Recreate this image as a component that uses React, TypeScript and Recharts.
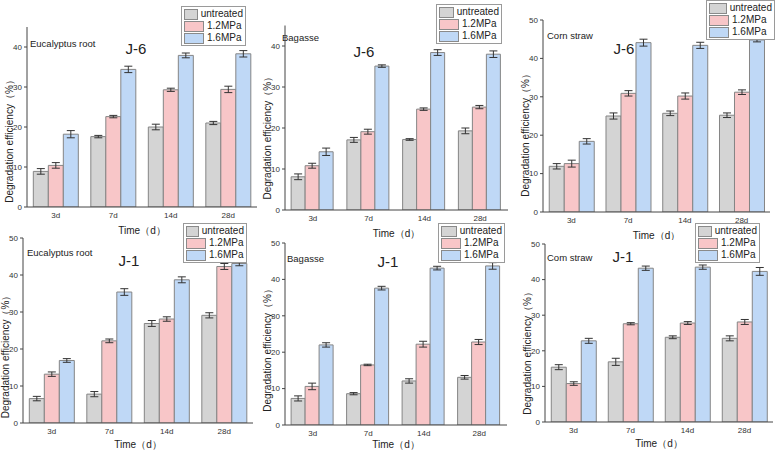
import React from 'react';
import { BarChart, Bar, XAxis, YAxis, ErrorBar, Legend } from 'recharts';

const categories = ['3d', '7d', '14d', '28d'];
const seriesNames = ['untreated', '1.2MPa', '1.6MPa'];

// J-6 Eucalyptus root
const j6EucU = [8.9, 17.6, 20.0, 21.0];
const j6EucA = [10.4, 22.6, 29.3, 29.4];
const j6EucB = [18.2, 34.4, 37.9, 38.3];
const j6EucUe = [0.7, 0.3, 0.7, 0.4];
const j6EucAe = [0.7, 0.3, 0.4, 0.8];
const j6EucBe = [0.9, 0.8, 0.6, 0.8];

// J-6 Bagasse
const j6BagU = [8.1, 17.1, 17.2, 19.3];
const j6BagA = [10.8, 19.1, 24.6, 25.1];
const j6BagB = [14.2, 35.1, 38.4, 38.0];
const j6BagUe = [0.7, 0.6, 0.2, 0.7];
const j6BagAe = [0.6, 0.6, 0.3, 0.4];
const j6BagBe = [0.9, 0.3, 0.7, 0.8];

// J-6 Corn straw
const j6CornU = [11.9, 25.0, 25.7, 25.2];
const j6CornA = [12.6, 30.9, 30.2, 31.2];
const j6CornB = [18.4, 44.1, 43.4, 44.8];
const j6CornUe = [0.7, 0.8, 0.6, 0.6];
const j6CornAe = [0.9, 0.7, 0.8, 0.6];
const j6CornBe = [0.7, 0.9, 0.8, 0.5];

// J-1 Eucalyptus root
const j1EucU = [6.6, 7.8, 26.9, 29.1];
const j1EucA = [13.2, 22.2, 28.1, 42.3];
const j1EucB = [16.9, 35.4, 38.7, 43.1];
const j1EucUe = [0.6, 0.7, 0.8, 0.7];
const j1EucAe = [0.6, 0.5, 0.6, 0.8];
const j1EucBe = [0.5, 0.9, 0.8, 0.6];

// J-1 Bagasse
const j1BagU = [7.3, 8.6, 12.1, 13.1];
const j1BagA = [10.6, 16.5, 22.2, 22.8];
const j1BagB = [22.0, 37.6, 43.1, 43.7];
const j1BagUe = [0.7, 0.3, 0.6, 0.5];
const j1BagAe = [0.9, 0.2, 0.8, 0.7];
const j1BagBe = [0.6, 0.5, 0.5, 0.9];

// J-1 Corn straw
const j1CornU = [15.4, 16.9, 23.8, 23.5];
const j1CornA = [10.8, 27.6, 27.8, 28.1];
const j1CornB = [22.8, 43.2, 43.5, 42.3];
const j1CornUe = [0.7, 1.0, 0.4, 0.7];
const j1CornAe = [0.5, 0.3, 0.4, 0.7];
const j1CornBe = [0.7, 0.6, 0.6, 1.1];

const ticks45 = [0, 10, 20, 30, 40];
const ticks50 = [0, 10, 20, 30, 40, 50];

const fills = ['#d4d4d4', '#f8c6c8', '#bfd8f6'];
const barStroke = '#858585';

function rows(u: number[], a: number[], b: number[], ue: number[], ae: number[], be: number[]) {
  return categories.map((c, i) => ({ cat: c, u: u[i], a: a[i], b: b[i], ue: ue[i], ae: ae[i], be: be[i] }));
}

const panels = [
  { data: rows(j6EucU, j6EucA, j6EucB, j6EucUe, j6EucAe, j6EucBe), material: 'Eucalyptus root', tag: 'J-6', yMax: 45, yTicks: ticks45,
    bx: 0, by: 0, bw: 262, bh: 240, axisX: 27, axisEnd: 257, yTop: 27, zeroY: 207, timeOff: 23,
    lx: 181, ly: 6, lw: 65, mx: 30, my: 43, tx: 136, ty: 48, yShift: 22 },
  { data: rows(j6BagU, j6BagA, j6BagB, j6BagUe, j6BagAe, j6BagBe), material: 'Bagasse', tag: 'J-6', yMax: 45, yTicks: ticks45,
    bx: 258, by: 0, bw: 264, bh: 240, axisX: 285, axisEnd: 508, yTop: 25.5, zeroY: 210, timeOff: 23,
    lx: 436, ly: 4, lw: 66, mx: 282, my: 37, tx: 364, ty: 51, yShift: 18 },
  { data: rows(j6CornU, j6CornA, j6CornB, j6CornUe, j6CornAe, j6CornBe), material: 'Corn straw', tag: 'J-6', yMax: 50, yTicks: ticks50,
    bx: 515, by: 0, bw: 269, bh: 240, axisX: 543, axisEnd: 770, yTop: 20, zeroY: 212, timeOff: 23,
    lx: 706, ly: 0, lw: 69, mx: 547, my: 35, tx: 624, ty: 48, yShift: 17 },
  { data: rows(j1EucU, j1EucA, j1EucB, j1EucUe, j1EucAe, j1EucBe), material: 'Eucalyptus root', tag: 'J-1', yMax: 50, yTicks: ticks50,
    bx: 0, by: 225, bw: 262, bh: 226, axisX: 23, axisEnd: 253, yTop: 238, zeroY: 423, timeOff: 21,
    lx: 183, ly: 223, lw: 64, mx: 27, my: 252, tx: 129, ty: 260, yShift: 24 },
  { data: rows(j1BagU, j1BagA, j1BagB, j1BagUe, j1BagAe, j1BagBe), material: 'Bagasse', tag: 'J-1', yMax: 50, yTicks: ticks50,
    bx: 258, by: 225, bw: 264, bh: 226, axisX: 285, axisEnd: 507, yTop: 243, zeroY: 425, timeOff: 19,
    lx: 438, ly: 223, lw: 67, mx: 287, my: 258, tx: 388, ty: 261, yShift: 14 },
  { data: rows(j1CornU, j1CornA, j1CornB, j1CornUe, j1CornAe, j1CornBe), material: 'Com straw', tag: 'J-1', yMax: 50, yTicks: ticks50,
    bx: 515, by: 225, bw: 269, bh: 226, axisX: 545, axisEnd: 773, yTop: 244, zeroY: 422, timeOff: 21,
    lx: 695, ly: 223, lw: 65, mx: 547, my: 257, tx: 623, ty: 256, yShift: 18 },
];

const LegendBox = (props: any) => {
  const payload = [...(props.payload || [])].sort((x: any, y: any) => seriesNames.indexOf(x.value) - seriesNames.indexOf(y.value));
  return (
    <div style={{ border: '1px solid #9a9a9a', background: '#fff', padding: '1px 2px', boxSizing: 'border-box', width: '100%' }}>
      {payload.map((e: any, i: number) => (
        <div key={i} style={{ display: 'flex', alignItems: 'center', height: 12 }}>
          <span style={{ display: 'inline-block', width: 20, height: 11, background: e.color, border: '1px solid #8a8a8a', boxSizing: 'border-box', marginRight: 3 }} />
          <span style={{ fontSize: 10, lineHeight: '12px', color: '#222', whiteSpace: 'nowrap' }}>{e.value}</span>
        </div>
      ))}
    </div>
  );
};

function Panel({ p }: { p: any }) {
  const marginTop = p.yTop - p.by;
  const marginRight = p.bx + p.bw - p.axisEnd;
  const yAxisWidth = p.axisX - p.bx;
  const xAxisHeight = p.by + p.bh - p.zeroY;
  const XTitle = (lp: any) => {
    const vb = lp.viewBox;
    return (
      <text x={vb.x + vb.width / 2} y={vb.y + p.timeOff} textAnchor="middle" dominantBaseline="central" fontSize={10} fill="#222">Time（d）</text>
    );
  };
  const YTitle = (lp: any) => {
    const vb = lp.viewBox;
    const x = vb.x + vb.width - 18;
    const y = vb.y + vb.height / 2 + p.yShift;
    return (
      <text x={x} y={y} transform={`rotate(-90 ${x} ${y})`} textAnchor="middle" dominantBaseline="central" fontSize={10} fill="#222">Degradation efficiency（%）</text>
    );
  };
  return (
    <div style={{ position: 'absolute', left: p.bx, top: p.by }}>
      <BarChart width={p.bw} height={p.bh} data={p.data} margin={{ top: marginTop, right: marginRight, left: 0, bottom: 0 }} barCategoryGap="11%" barGap={0}>
        <XAxis dataKey="cat" height={xAxisHeight} tickSize={0} tickMargin={5} tick={{ fontSize: 8, fill: '#333' }} axisLine={{ stroke: '#444' }} label={{ content: XTitle } as any} />
        <YAxis width={yAxisWidth} domain={[0, p.yMax]} ticks={p.yTicks} allowDataOverflow tickSize={3} tickMargin={2} tick={{ fontSize: 8, fill: '#333' }} axisLine={{ stroke: '#444' }} tickLine={{ stroke: '#444' }} label={{ content: YTitle } as any} />
        <Legend layout="vertical" align="center" verticalAlign="middle" content={<LegendBox />} wrapperStyle={{ left: p.lx - p.bx, top: p.ly - p.by, width: p.lw }} />
        <Bar dataKey="u" name={seriesNames[0]} fill={fills[0]} stroke={barStroke} strokeWidth={1} isAnimationActive={false}>
          <ErrorBar dataKey="ue" width={4} stroke="#333" strokeWidth={1} isAnimationActive={false} />
        </Bar>
        <Bar dataKey="a" name={seriesNames[1]} fill={fills[1]} stroke={barStroke} strokeWidth={1} isAnimationActive={false}>
          <ErrorBar dataKey="ae" width={4} stroke="#333" strokeWidth={1} isAnimationActive={false} />
        </Bar>
        <Bar dataKey="b" name={seriesNames[2]} fill={fills[2]} stroke={barStroke} strokeWidth={1} isAnimationActive={false}>
          <ErrorBar dataKey="be" width={4} stroke="#333" strokeWidth={1} isAnimationActive={false} />
        </Bar>
        <text x={p.mx - p.bx} y={p.my - p.by} dominantBaseline="central" fontSize={9.5} fill="#222">{p.material}</text>
        <text x={p.tx - p.bx} y={p.ty - p.by} textAnchor="middle" dominantBaseline="central" fontSize={15} fill="#222">{p.tag}</text>
      </BarChart>
    </div>
  );
}

export default function App() {
  return (
    <div style={{ position: 'absolute', left: 0, top: 0, width: 784, height: 451, background: '#fff', fontFamily: 'Arial, "Liberation Sans", sans-serif', overflow: 'hidden' }}>
      {panels.map((p, i) => <Panel key={i} p={p} />)}
    </div>
  );
}
